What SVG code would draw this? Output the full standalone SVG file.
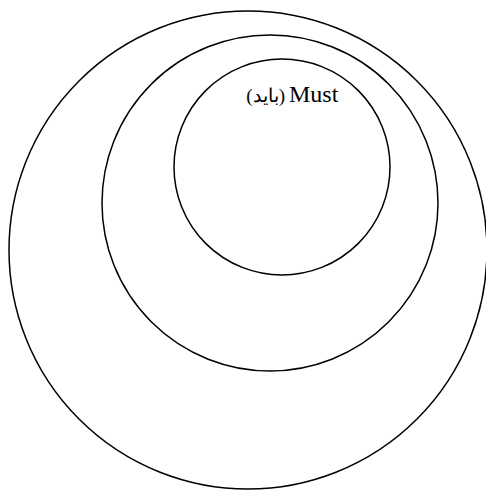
<svg xmlns="http://www.w3.org/2000/svg" width="486" height="490" viewBox="0 0 486 490">
<style>
.c{fill:none;stroke:#000;stroke-width:1.5}
.t{font-family:"Liberation Serif","DejaVu Serif","DejaVu Sans",serif;fill:#000}
</style>
<rect width="486" height="490" fill="#fff"/>
<g id="outer"><circle class="c" cx="248" cy="250" r="239"/></g>
<g id="middle"><circle class="c" cx="270" cy="203" r="168"/></g>
<g id="inner"><circle class="c" cx="282" cy="167" r="108"/>
<text class="t" x="285" y="102" font-size="19" font-weight="300" text-anchor="end" direction="ltr">(باید)</text>
<text class="t" x="289" y="102" font-size="24">Must</text>
</g>
<g id="connectors"/>
</svg>
